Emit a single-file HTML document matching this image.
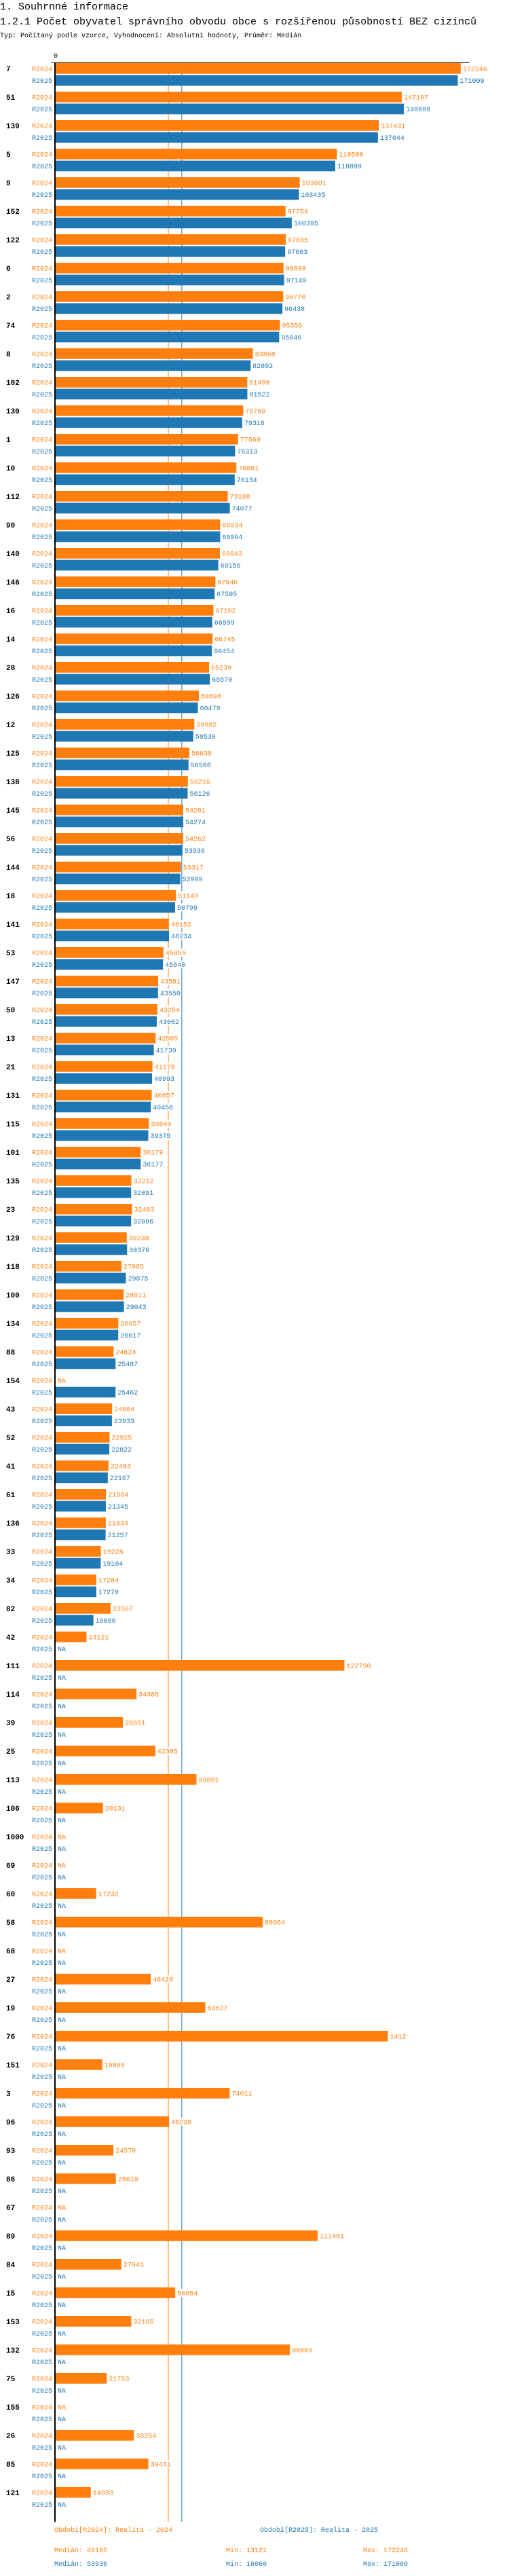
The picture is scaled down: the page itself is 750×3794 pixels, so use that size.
<!DOCTYPE html>
<html><head><meta charset="utf-8"><style>
html,body{margin:0;padding:0;background:#fff;}
svg{display:block;font-family:"Liberation Mono",monospace;}
</style></head><body>
<svg id="chart" width="750" height="3794" viewBox="0 0 750 3794" xmlns="http://www.w3.org/2000/svg">
<defs><clipPath id="labelclip"><rect x="0" y="0" width="600" height="3794"/></clipPath></defs>
<text x="0" y="14" font-size="15" fill="#000">1. Souhrnné informace</text>
<text x="0" y="36" font-size="15" fill="#000">1.2.1 Počet obyvatel správního obvodu obce s rozšířenou působností BEZ cizinců</text>
<text x="0" y="55" font-size="10" fill="#000">Typ: Počítaný podle vzorce, Vyhodnocení: Absolutní hodnoty, Průměr: Medián</text>
<g id="plot"></g>
<g id="legend"></g>
</svg>
<script>
const categories=["7","51","139","5","9","152","122","6","2","74","8","102","130","1","10","112","90","140","146","16","14","28","126","12","125","138","145","56","144","18","141","53","147","50","13","21","131","115","101","135","23","129","118","100","134","88","154","43","52","41","61","136","33","34","82","42","111","114","39","25","113","106","1000","69","60","58","68","27","19","76","151","3","96","93","86","67","89","84","15","153","132","75","155","26","85","121"];
const values2024=[172246,147197,137431,119599,103801,97754,97835,96899,96770,95356,83868,81499,79769,77560,76851,73188,69934,69843,67940,67102,66745,65239,60898,58982,56838,56216,54261,54262,53317,51143,48152,45855,43581,43254,42505,41178,40857,39640,36179,32212,32483,30238,27985,28911,26657,24624,null,24004,22925,22483,21384,21334,19228,17284,23367,13121,122790,34385,28651,42385,59891,20131,null,null,17232,88064,null,40428,63627,141270,19800,74011,48238,24578,25610,null,111401,27941,50854,32165,99604,21753,null,33254,39431,14933];
const values2025=[171009,148089,137044,118899,103435,100395,97603,97149,96438,95046,82892,81522,79316,76313,76134,74077,69964,69156,67595,66599,66454,65570,60479,58530,56506,56126,54274,53936,52999,50799,48234,45640,43550,43002,41739,40993,40456,39375,36177,32091,32086,30376,29875,29043,26617,25487,25462,23933,22822,22167,21345,21257,19164,17270,16060,null,null,null,null,null,null,null,null,null,null,null,null,null,null,null,null,null,null,null,null,null,null,null,null,null,null,null,null,null,null,null];
const seriesNames=["R2024","R2025"];
const medians=[48195,53936];
const mins=[13121,16060];
const maxs=[172246,171009];
const tickLabels=["0"];

const NS="http://www.w3.org/2000/svg";
const plot=document.getElementById('plot');
const legend=document.getElementById('legend');
const colors=["#ff7f0e","#1f77b4"];
const X0=82, SCALE=0.003465, TOP0=93, PITCH=42, BH=15.7, OFF=17.6;
function xs(v){return X0+v*SCALE;}
function ys(i,s){return TOP0+i*PITCH+s*OFF;}
function mk(tag,attrs,parent){const e=document.createElementNS(NS,tag);for(const k in attrs)e.setAttribute(k,attrs[k]);(parent||plot).appendChild(e);return e;}
const axisBottom=ys(categories.length-1,1)+BH+18;

medians.forEach((m,s)=>{
  const l=mk('line',{x1:xs(m)-1,x2:xs(m)-1,y1:92,y2:axisBottom,stroke:colors[s],'stroke-width':1});
  
  
});
const ta=mk('line',{x1:76,x2:692,y1:92.5,y2:92.5,stroke:'#000','stroke-width':1},legend);


tickLabels.forEach(t=>{
  const tt=mk('text',{x:xs(+t),y:85,'font-size':10,'text-anchor':'middle',fill:'#000'});
  tt.textContent=t;
  
  
});

categories.forEach((c,i)=>{
  const g=mk('g',{});
  
  
  const gl=mk('text',{x:9,y:ys(i,0)+BH/2+4,'font-size':11,'font-weight':'bold',fill:'#000'},g);
  gl.textContent=c;
  
  
  const lowerSection = values2025[i]===null;
  [values2024,values2025].forEach((arr,s)=>{
    const v=arr[i];const y=ys(i,s);
    const sl=mk('text',{x:77,y:y+BH/2+3.5,'font-size':10,'text-anchor':'end',fill:colors[s]},g);
    sl.textContent=seriesNames[s];
    
    
    let tx=X0+3;
    if(v!==null){
      const r=mk('rect',{x:X0,y:y,width:v*SCALE,height:BH,fill:colors[s]},g);
      
      
      tx=xs(v)+3;
    }
    const txt=v===null?'NA':String(v);
    const lg=mk('g',lowerSection?{'clip-path':'url(#labelclip)'}:{},g);
    
    
    const bg=mk('rect',{x:tx,y:y+2,width:txt.length*6+1,height:BH-4,fill:'#fff'},lg);
    
    
    const vl=mk('text',{x:tx,y:y+BH/2+3.5,'font-size':10,fill:colors[s]},lg);
    vl.textContent=txt;
    
    
  });
});
const la=mk('line',{x1:81,x2:81,y1:92,y2:axisBottom,stroke:'#000','stroke-width':2});



const legY=3729;
const legTexts=["Období[R2024]: Realita - 2024","Období[R2025]: Realita - 2025"];
[80,383].forEach((x,s)=>{
  const t=mk('text',{x:x,y:legY,'font-size':10,fill:colors[s]},legend);
  t.textContent=legTexts[s];
  
  
});
[0,1].forEach(s=>{
  const y=3759+s*20;
  [["Medián: ",medians[s],80],["Min: ",mins[s],333],["Max: ",maxs[s],535]].forEach(([lab,val,x])=>{
    const t=mk('text',{x:x,y:y,'font-size':10,fill:colors[s]},legend);
    t.textContent=lab+val;
    
    
  });
});
</script>
</body></html>
